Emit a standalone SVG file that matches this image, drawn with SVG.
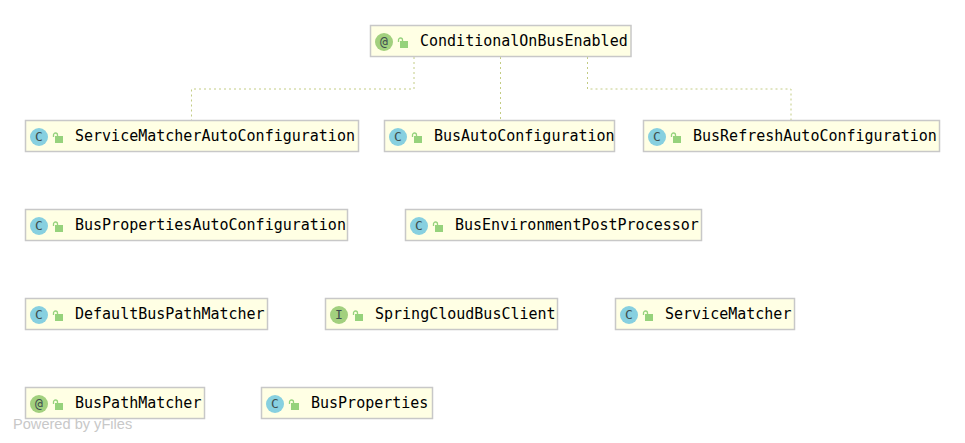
<svg xmlns="http://www.w3.org/2000/svg" xmlns:xlink="http://www.w3.org/1999/xlink" width="965" height="443" viewBox="0 0 965 443">
<style>
.box{fill:#ffffe4;stroke:#c8c8c8;stroke-width:1.5}
.lbl{font-family:"DejaVu Sans Mono",monospace;font-size:15px;fill:#000}
.ic{font-family:"DejaVu Sans Mono",monospace;font-size:13px;fill:#3f4f4f;text-anchor:middle}
.c{fill:#87d0e0}
.g{fill:#a2d07e}
.lk{fill:#96d27c}
.sh{fill:none;stroke:#96d27c;stroke-width:1.3}
.edge{fill:none;stroke:#c3cc84;stroke-width:1;stroke-dasharray:2 3}
.wm{font-family:"Liberation Sans",Arial,sans-serif;font-size:14.600px;fill:#c8c8c8}
</style>
<defs>
<g id="lock"><rect x="2" y="3" width="8" height="7" class="lk"/><path d="M0.500 4V2a2 2 0 0 1 4 0V3" class="sh"/></g>
</defs>
<rect width="965" height="443" fill="#fff"/>
<g id="connectors">
<path class="edge" d="M414 57V89H191.500V120"/>
<path class="edge" d="M500.500 57V120"/>
<path class="edge" d="M587.500 57V89H791V120"/>
</g>
<g id="n1"><rect class="box" x="370.500" y="25.500" width="260.500" height="31"/><circle class="g" cx="384" cy="42" r="9"/><text class="ic" x="384" y="46">@</text><use href="#lock" x="398" y="38"/><text class="lbl" x="420" y="46">ConditionalOnBusEnabled</text></g>
<g id="n2"><rect class="box" x="25.500" y="120.500" width="333" height="31"/><circle class="c" cx="39" cy="137" r="9"/><text class="ic" x="39" y="141">C</text><use href="#lock" x="53" y="133"/><text class="lbl" x="75" y="141">ServiceMatcherAutoConfiguration</text></g>
<g id="n3"><rect class="box" x="384.500" y="120.500" width="230" height="31"/><circle class="c" cx="398" cy="137" r="9"/><text class="ic" x="398" y="141">C</text><use href="#lock" x="412" y="133"/><text class="lbl" x="434" y="141">BusAutoConfiguration</text></g>
<g id="n4"><rect class="box" x="643.500" y="120.500" width="296" height="31"/><circle class="c" cx="657" cy="137" r="9"/><text class="ic" x="657" y="141">C</text><use href="#lock" x="671" y="133"/><text class="lbl" x="693" y="141">BusRefreshAutoConfiguration</text></g>
<g id="n5"><rect class="box" x="25.500" y="209.500" width="322" height="31"/><circle class="c" cx="39" cy="226" r="9"/><text class="ic" x="39" y="230">C</text><use href="#lock" x="53" y="222"/><text class="lbl" x="75" y="230">BusPropertiesAutoConfiguration</text></g>
<g id="n6"><rect class="box" x="405.500" y="209.500" width="296" height="31"/><circle class="c" cx="419" cy="226" r="9"/><text class="ic" x="419" y="230">C</text><use href="#lock" x="433" y="222"/><text class="lbl" x="455" y="230">BusEnvironmentPostProcessor</text></g>
<g id="n7"><rect class="box" x="25.500" y="298.500" width="242" height="31"/><circle class="c" cx="39" cy="315" r="9"/><text class="ic" x="39" y="319">C</text><use href="#lock" x="53" y="311"/><text class="lbl" x="75" y="319">DefaultBusPathMatcher</text></g>
<g id="n8"><rect class="box" x="325.500" y="298.500" width="232" height="31"/><circle class="g" cx="339" cy="315" r="9"/><text class="ic" x="339" y="319">I</text><use href="#lock" x="353" y="311"/><text class="lbl" x="375" y="319">SpringCloudBusClient</text></g>
<g id="n9"><rect class="box" x="615.500" y="298.500" width="179" height="31"/><circle class="c" cx="629" cy="315" r="9"/><text class="ic" x="629" y="319">C</text><use href="#lock" x="643" y="311"/><text class="lbl" x="665" y="319">ServiceMatcher</text></g>
<g id="n10"><rect class="box" x="25.500" y="387.500" width="179" height="31"/><circle class="g" cx="39" cy="404" r="9"/><text class="ic" x="39" y="408">@</text><use href="#lock" x="53" y="400"/><text class="lbl" x="75" y="408">BusPathMatcher</text></g>
<g id="n11"><rect class="box" x="261.500" y="387.500" width="171" height="31"/><circle class="c" cx="275" cy="404" r="9"/><text class="ic" x="275" y="408">C</text><use href="#lock" x="289" y="400"/><text class="lbl" x="311" y="408">BusProperties</text></g>
<text class="wm" x="13" y="429">Powered by yFiles</text>
</svg>
